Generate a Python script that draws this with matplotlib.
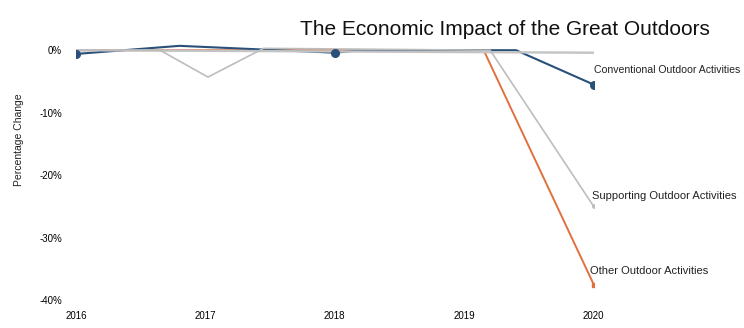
import matplotlib
matplotlib.use("Agg")
import matplotlib.pyplot as plt

# x positions (fractional years)
conv_x = [2016, 2016.8, 2018, 2018.2, 2019.4, 2020]
conv_y = [-0.6, 0.7, -0.4, 0.0, 0.0, -5.5]
supp_x = [2016, 2016.65, 2017.02, 2017.45, 2019.2, 2020]
supp_y = [0.0, 0.0, -4.3, 0.3, 0.0, -25.0]
other_x = [2016, 2019.15, 2020]
other_y = [0.0, 0.0, -37.5]
base_x = [2016, 2020]
base_y = [0.0, -0.4]

years = [2016, 2017, 2018, 2019, 2020]
yticks = [0, -10, -20, -30, -40]
ytick_labels = ["0%", "-10%", "-20%", "-30%", "-40%"]

plt.rcParams['font.family'] = ['Liberation Sans', 'DejaVu Sans']

fig = plt.figure(figsize=(7.44, 3.28), dpi=100)
ax = fig.add_axes([0.102, 0.085, 0.696, 0.80])

ax.plot(other_x, other_y, color="#e07040", lw=1.4, zorder=2,
        marker="s", markersize=3, markevery=[2])
ax.plot(conv_x, conv_y, color="#28507a", lw=1.5, zorder=3)
ax.plot(base_x, base_y, color="#c4c4c4", lw=1.7, zorder=4)
ax.plot(supp_x, supp_y, color="#bdbdbd", lw=1.2, zorder=5,
        marker="o", markersize=2.5, markevery=[5])
ax.plot(conv_x, conv_y, color="#28507a", lw=0, zorder=6,
        marker="o", markersize=5.5, markevery=[0, 2, 5])

ax.text(2020.0, -3.2, "Conventional Outdoor Activities",
        fontsize=7.6, va="center", ha="left", color="#222222")
ax.text(2019.985, -23.4, "Supporting Outdoor Activities",
        fontsize=8, va="center", ha="left", color="#222222")
ax.text(2019.97, -35.4, "Other Outdoor Activities",
        fontsize=8, va="center", ha="left", color="#222222")

ax.set_xlim(2016, 2020)
ax.set_ylim(-40, 2)
ax.set_xticks(years)
ax.set_xticklabels([str(y) for y in years], fontsize=7)
ax.set_yticks(yticks)
ax.set_yticklabels(ytick_labels, fontsize=7)
ax.tick_params(axis="y", length=0, pad=10)
ax.tick_params(axis="x", length=0, pad=8)
for s in ax.spines.values():
    s.set_visible(False)

fig.text(19 / 744, 1 - 140 / 328, "Percentage Change", fontsize=7.5,
         rotation=90, ha="center", va="center", color="#222222")

fig.text(0.403, 0.91, "The Economic Impact of the Great Outdoors",
         fontsize=15, ha="left", va="center", color="#111111")

fig.savefig("out.png", dpi=100)
